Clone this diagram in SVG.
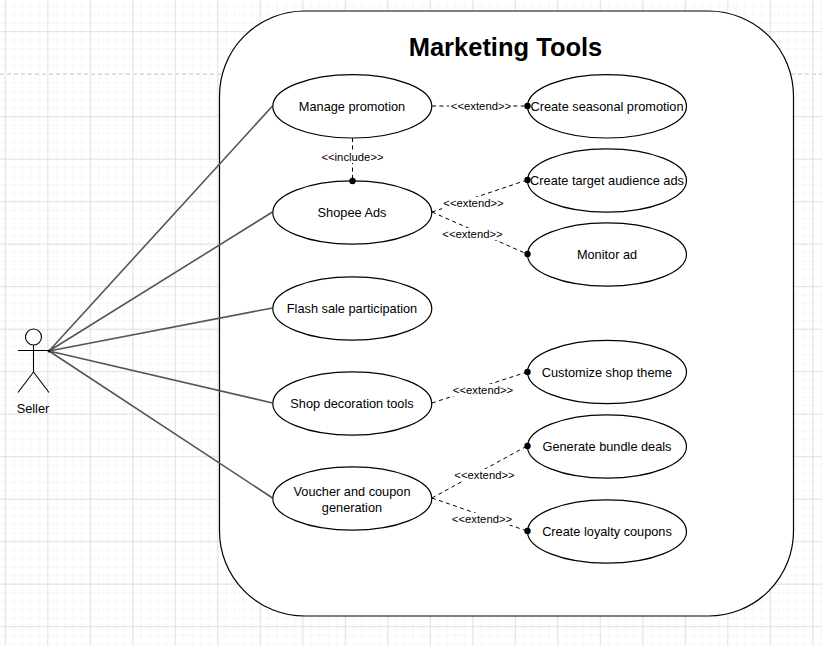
<svg xmlns="http://www.w3.org/2000/svg" width="822" height="646" viewBox="0 0 822 646">
<style>
text{font-family:"Liberation Sans",Arial,sans-serif;fill:#000;text-anchor:middle}
.uc{fill:#fff;stroke:#000;stroke-width:1.2}
.t{font-size:12.75px}
.l{font-size:11.3px}
.a{stroke:#555;stroke-width:1.6;fill:none}
.d{stroke:#000;stroke-width:1;stroke-dasharray:4 3.4;fill:none}
.lb{fill:#fff}
.ac{stroke:#000;stroke-width:1.1;fill:#fff}
</style>
<defs>
<pattern id="minor" width="8.5" height="8.5" patternUnits="userSpaceOnUse" x="4.8" y="-11.3"><path d="M0 .5H8.5M.5 0V8.5" stroke="#f6f6f6" stroke-width="1" fill="none"/></pattern>
<pattern id="major" width="42.5" height="42.5" patternUnits="userSpaceOnUse" x="4.8" y="-11.3"><path d="M0 .5H42.5M.5 0V42.5" stroke="#e2e2e2" stroke-width="1" fill="none"/></pattern>
</defs>
<rect width="822" height="646" fill="#fff"/>
<rect width="822" height="646" fill="url(#minor)"/>
<rect width="822" height="646" fill="url(#major)"/>
<path d="M0 74.2H822" stroke="#fff" stroke-width="1.4"/>
<path d="M0 74.2H822" stroke="#c4c4c4" stroke-width="1" stroke-dasharray="4 3"/>
<g id="system"><rect x="219.5" y="11" width="574" height="605" rx="85" ry="85" fill="#fff" stroke="#000" stroke-width="1.2"/>
<text x="505.500" y="56" style="font-size:25.5px;font-weight:bold">Marketing Tools</text></g>
<g id="connectors">
<path class="a" d="M49 351L272.5 106M49 351L272.5 212M49 351L272.5 308M49 351L272.5 403M49 351L272.5 498"/>
<path class="d" d="M432 106H527M352.500 138V181M432 212L527 180M432 212L527 254M432 403L527 372M432 498L527 446M432 498L527 531"/>
<circle cx="49" cy="351" r="1.5"/>
<rect class="lb" x="449" y="100" width="64" height="12"/><text class="l" x="481" y="110">&lt;&lt;extend&gt;&gt;</text>
<rect class="lb" x="320" y="151" width="65" height="12"/><text class="l" x="352.500" y="161">&lt;&lt;include&gt;&gt;</text>
<rect class="lb" x="442" y="197" width="64" height="12"/><text class="l" x="473.500" y="206.500">&lt;&lt;extend&gt;&gt;</text>
<rect class="lb" x="441" y="228" width="64" height="12"/><text class="l" x="472.500" y="237.500">&lt;&lt;extend&gt;&gt;</text>
<rect class="lb" x="451" y="384" width="64" height="12"/><text class="l" x="483" y="393.500">&lt;&lt;extend&gt;&gt;</text>
<rect class="lb" x="453" y="469" width="64" height="12"/><text class="l" x="484.500" y="478.500">&lt;&lt;extend&gt;&gt;</text>
<rect class="lb" x="450" y="513" width="64" height="12"/><text class="l" x="482" y="522.500">&lt;&lt;extend&gt;&gt;</text>
</g>
<g id="seller">
<circle class="ac" cx="33.500" cy="337" r="8"/>
<path class="ac" d="M33.500 345V372M18 350.500H49M33.500 372L18 392.500M33.500 372L49 392.500" fill="none"/>
<text class="t" x="33" y="412.500">Seller</text>
</g>
<g id="manage-promotion"><ellipse class="uc" cx="352.300" cy="106.300" rx="79.500" ry="31.700"/><text class="t" x="352" y="111">Manage promotion</text></g>
<g id="shopee-ads"><ellipse class="uc" cx="352.300" cy="212.500" rx="79.500" ry="31.700"/><text class="t" x="352" y="217">Shopee Ads</text></g>
<g id="flash-sale"><ellipse class="uc" cx="352.300" cy="308.500" rx="79.500" ry="31.700"/><text class="t" x="352" y="313">Flash sale participation</text></g>
<g id="shop-decoration"><ellipse class="uc" cx="352.300" cy="403.500" rx="79.500" ry="31.700"/><text class="t" x="352" y="408">Shop decoration tools</text></g>
<g id="voucher"><ellipse class="uc" cx="352.300" cy="498.500" rx="79.500" ry="31.700"/><text class="t" x="352" y="496">Voucher and coupon</text><text class="t" x="352" y="512">generation</text></g>
<g id="seasonal"><ellipse class="uc" cx="607" cy="106.300" rx="79.500" ry="31.700"/><text class="t" x="607" y="111">Create seasonal promotion</text></g>
<g id="target-audience"><ellipse class="uc" cx="607" cy="180.500" rx="79.500" ry="31.700"/><text class="t" x="607" y="185">Create target audience ads</text></g>
<g id="monitor-ad"><ellipse class="uc" cx="607" cy="254.500" rx="79.500" ry="31.700"/><text class="t" x="607" y="259">Monitor ad</text></g>
<g id="customize-theme"><ellipse class="uc" cx="607" cy="372" rx="79.500" ry="31.700"/><text class="t" x="607" y="377">Customize shop theme</text></g>
<g id="bundle-deals"><ellipse class="uc" cx="607" cy="446.500" rx="79.500" ry="31.700"/><text class="t" x="607" y="451">Generate bundle deals</text></g>
<g id="loyalty-coupons"><ellipse class="uc" cx="607" cy="531.500" rx="79.500" ry="31.700"/><text class="t" x="607" y="536">Create loyalty coupons</text></g>
<g id="endpoints"><circle cx="527.500" cy="106" r="3.200"/><circle cx="352.500" cy="181" r="3.200"/><circle cx="527.500" cy="180" r="3.200"/><circle cx="527.500" cy="254" r="3.200"/><circle cx="527.500" cy="372" r="3.200"/><circle cx="527.500" cy="446" r="3.200"/><circle cx="527.500" cy="531" r="3.200"/></g>
</svg>
